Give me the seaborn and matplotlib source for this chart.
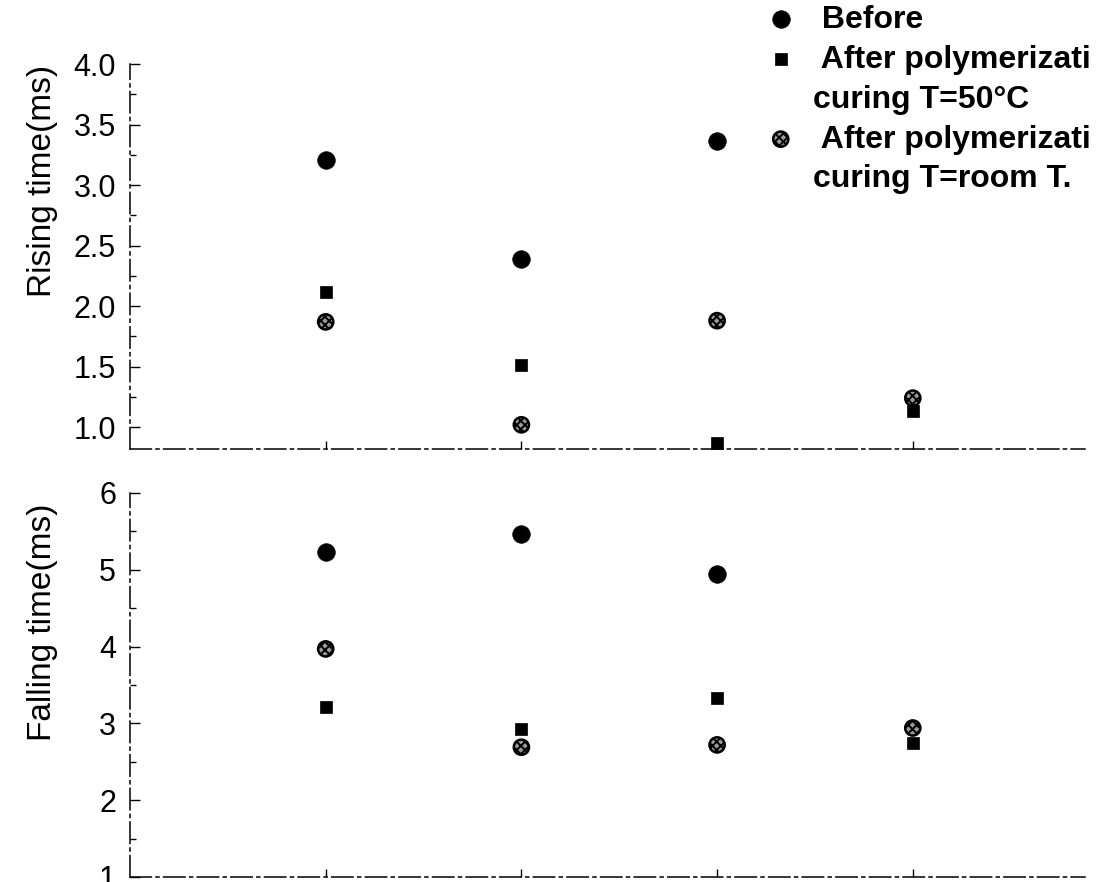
import numpy as np
import pandas as pd
import matplotlib
matplotlib.use("Agg")
import matplotlib.pyplot as plt
from matplotlib.lines import Line2D
from matplotlib.ticker import MultipleLocator, FormatStrFormatter
import seaborn as sns

# Sample positions along the horizontal axis
positions = [1, 2, 3, 4]

# Rising time (ms)
rise_before = [3.21, 2.39, 3.36, np.nan]
rise_cured_50c = [2.12, 1.51, 0.87, 1.13]
rise_cured_room = [1.87, 1.02, 1.88, 1.24]

# Falling time (ms)
fall_before = [5.23, 5.47, 4.95, np.nan]
fall_cured_50c = [3.21, 2.93, 3.33, 2.74]
fall_cured_room = [3.97, 2.69, 2.72, 2.94]

series_names = ["Before", "After polymerization, curing T=50°C",
                "After polymerization, curing T=room T."]
# Legend text, one list of lines per series (as printed in the key)
legend_lines = [
    [" Before"],
    [" After polymerizati", "curing T=50°C"],
    [" After polymerizati", "curing T=room T."],
]

sns.set_theme(style="white")
plt.rcParams["font.family"] = ["Liberation Sans", "DejaVu Sans"]
plt.rcParams["hatch.linewidth"] = 1.4
for key in ("text.color", "axes.labelcolor", "xtick.color", "ytick.color"):
    plt.rcParams[key] = "black"
plt.rcParams["xtick.direction"] = "in"
plt.rcParams["ytick.direction"] = "in"

fig = plt.figure(figsize=(10.97, 8.82), dpi=100)
W, H = 1097, 882

def px_axes(left, top, right, bottom):
    return fig.add_axes([left / W, 1 - bottom / H, (right - left) / W, (bottom - top) / H])

ax_rise = px_axes(130, 64, 1085, 449)
ax_fall = px_axes(130, 493, 1085, 877)

styles = [
    dict(marker="o", s=160, color="black", edgecolor="black", linewidth=0.5),
    dict(marker="s", s=85, color="black", edgecolor="black", linewidth=0.5),
    dict(marker="o", s=120, facecolor="#9a9a9a", edgecolor="black", linewidth=1.8, hatch="xxxx"),
]

def draw_panel(ax, series, ylim, major, minor, fmt, ylabel, label_y):
    for values, name, st in zip(series, series_names, styles):
        df = pd.DataFrame({"pos": positions, "val": values}).dropna()
        sns.scatterplot(data=df, x="pos", y="val", ax=ax, legend=False, label=name, zorder=3, **st)
    ax.set_xlim(0, 4.88)
    ax.set_ylim(*ylim)
    ax.yaxis.set_major_locator(MultipleLocator(major))
    ax.yaxis.set_minor_locator(MultipleLocator(minor))
    ax.yaxis.set_major_formatter(FormatStrFormatter(fmt))
    ax.set_xticks(positions)
    ax.set_xticklabels([])
    ax.set_xlabel("")
    ax.tick_params(axis="y", which="major", direction="in", length=7, width=1,
                   labelsize=22, pad=10, left=True, color="black")
    ax.tick_params(axis="y", which="minor", direction="in", length=4, width=1, left=True, color="black")
    ax.tick_params(axis="x", which="major", direction="in", length=6, width=1, bottom=True, color="black")
    for side in ("top", "right"):
        ax.spines[side].set_visible(False)
    for side in ("left", "bottom"):
        ax.spines[side].set_color("black")
        ax.spines[side].set_linewidth(1.1)
        ax.spines[side].set_linestyle((0, (14, 3, 2, 3)))
    ax.set_ylabel(ylabel, fontsize=24)
    ax.yaxis.set_label_coords(-0.075, label_y)
    ax.set_facecolor("white")

draw_panel(ax_rise, [rise_before, rise_cured_50c, rise_cured_room],
           (0.82, 4.0), 0.5, 0.25, "%.1f", "Rising time(ms)", 0.696)
draw_panel(ax_fall, [fall_before, fall_cured_50c, fall_cured_room],
           (1, 6), 1, 0.5, "%d", "Falling time(ms)", 0.664)

# Legend: marker sits on the first line of each entry, continuation lines have no marker
series_handles = ax_rise.collections[:3]
blank = Line2D([], [], linestyle="none", marker=None)
handles, labels = [], []
for h, lines in zip(series_handles, legend_lines):
    handles.append(h)
    labels.append(lines[0])
    for extra in lines[1:]:
        handles.append(blank)
        labels.append(extra)

fig.legend(handles, labels, loc="upper left", bbox_to_anchor=(752 / W, 1.009),
           frameon=False, prop={"weight": "bold", "size": 23}, handletextpad=0.52,
           labelspacing=0.31, handlelength=1.0, borderaxespad=0, scatterpoints=1)

fig.savefig("out.png", dpi=100, facecolor="white")
